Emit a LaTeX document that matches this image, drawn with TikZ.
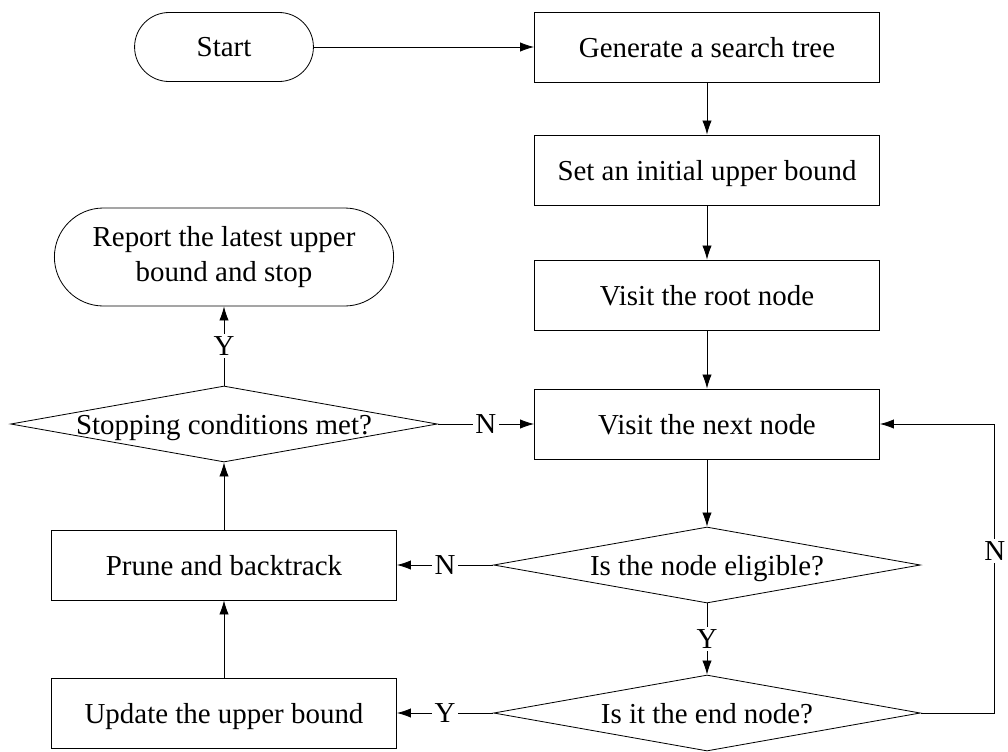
\documentclass[tikz,border=0pt]{standalone}
\usepackage{fontspec}
\setmainfont{Liberation Serif}
\usetikzlibrary{shapes.geometric,shapes.misc,arrows.meta}

\begin{document}
\begin{tikzpicture}[x=0.03cm,y=-0.03cm,>={Latex[length=12pt,width=8pt]}]
    % Styles
    \tikzstyle{every node} = [font=\fontsize{24.7}{30}\selectfont]
    \tikzstyle{process box} = [draw, rectangle, minimum width=10.35cm, minimum height=2.1cm, inner sep=0pt, text depth=0pt]
    \tikzstyle{terminal} = [draw, rounded rectangle, minimum height=2.07cm, align=center]
    \tikzstyle{decision} = [draw, diamond, minimum width=12.8cm, minimum height=2.28cm, inner sep=0pt, text depth=0pt]
    \tikzstyle{branch label} = [fill=white, inner sep=2pt]
    \tikzstyle{flow line} = [->, line width=0.7pt]

    \useasboundingbox (0,0) rectangle (1008,751);

    %%% Main column
    \node[terminal, minimum width=5.6cm, line width=0.7pt] (start) at (224,47) {Start};
    \node[process box, line width=0.7pt] (generate) at (707,47) {Generate a search tree};
    \node[process box, line width=0.7pt] (initial) at (707,170) {Set an initial upper bound};
    \node[process box, line width=0.7pt] (root) at (707,295) {Visit the root node};
    \node[process box, line width=0.7pt] (next) at (707,424) {Visit the next node};
    \node[decision, line width=0.7pt] (eligible) at (707,565) {\makebox[0pt]{Is the node eligible?}};
    \node[decision, line width=0.7pt] (endnode) at (707,713) {\makebox[0pt]{Is it the end node?}};

    %%% Left column
    \node[terminal, minimum width=10.41cm, minimum height=2.94cm, line width=0.7pt] (report) at (224,257)
        {Report the latest upper\\bound and stop};
    \node[decision, line width=0.7pt] (stopping) at (224,424) {\makebox[0pt]{Stopping conditions met?}};
    \node[process box, line width=0.7pt] (prune) at (224,565) {Prune and backtrack};
    \node[process box, line width=0.7pt] (update) at (224,713) {Update the upper bound};
    %%%

    %%% Connectors
    \draw[flow line] (start.east) -- (generate.west);
    \draw[flow line] (generate.south) -- (initial.north);
    \draw[flow line] (initial.south) -- (root.north);
    \draw[flow line] (root.south) -- (next.north);
    \draw[flow line] (next.south) -- (eligible.north);
    \draw[flow line] (eligible.south) -- node[branch label] {Y} (endnode.north);
    \draw[flow line] (eligible.west) -- node[branch label] {N} (prune.east);
    \draw[flow line] (endnode.west) -- node[branch label] {Y} (update.east);
    \draw[flow line] (endnode.east) -- ++(74,0) |- node[pos=0.28, branch label, inner xsep=0.5pt] {N} (next.east);
    \draw[flow line] (update.north) -- (prune.south);
    \draw[flow line] (prune.north) -- (stopping.south);
    \draw[flow line] (stopping.east) -- node[branch label] {N} (next.west);
    \draw[flow line] (stopping.north) -- node[branch label] {Y} (report.south);
    %%%
\end{tikzpicture}
\end{document}
